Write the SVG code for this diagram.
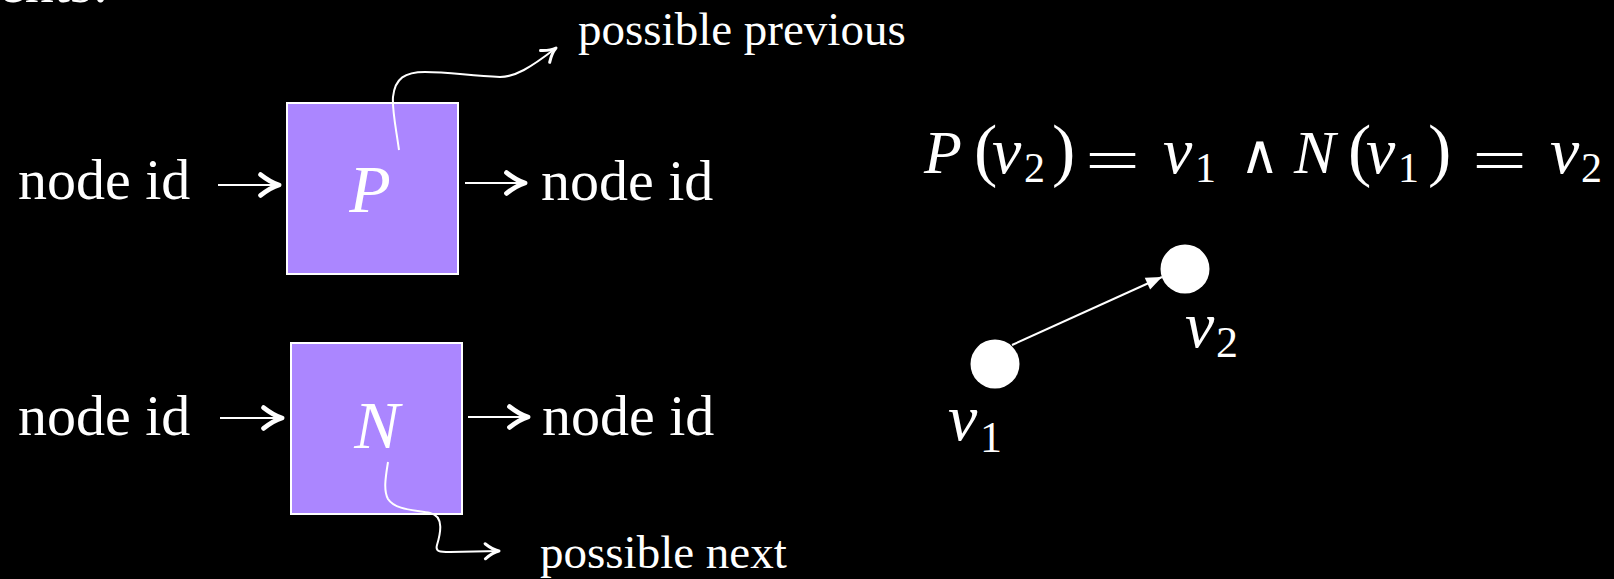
<svg xmlns="http://www.w3.org/2000/svg" width="1614" height="579" viewBox="0 0 1614 579">
<style>
.t{font-family:"Liberation Serif","Times New Roman",serif;fill:#fff}
.i{font-style:italic}
.box{fill:#ab86ff;stroke:#fff;stroke-width:2}
.ln{stroke:#fff;stroke-width:2.2;fill:none}
.cv{stroke:#fff;stroke-width:2;fill:none}
</style>
<defs>
<marker id="tex" markerUnits="userSpaceOnUse" markerWidth="30" markerHeight="30" refX="0" refY="0" viewBox="-22 -12 26 24" orient="auto" overflow="visible">
<path d="M-16,-9 Q-7,-2 0,0 Q-7,2 -16,9" fill="none" stroke="#fff" stroke-width="4.2" stroke-linecap="round" stroke-linejoin="round"/>
</marker>
<marker id="thin" markerUnits="userSpaceOnUse" markerWidth="20" markerHeight="20" refX="0" refY="0" viewBox="-14 -8 16 16" orient="auto" overflow="visible">
<path d="M-11,-6 Q-5,-1 0,0 Q-5,1 -11,6" fill="none" stroke="#fff" stroke-width="2.4" stroke-linecap="round" stroke-linejoin="round"/>
</marker>
<marker id="tri" markerUnits="userSpaceOnUse" markerWidth="20" markerHeight="20" refX="0" refY="0" viewBox="-18 -8 20 16" orient="auto" overflow="visible">
<path d="M0,0 L-16,-6.5 L-16,6.5 Z" fill="#fff"/>
</marker>
</defs>
<rect width="1614" height="579" fill="#000"/>
<text class="t" x="-1" y="2" font-size="58">ents:</text>

<g id="node-P">
<rect class="box" x="287" y="103" width="171" height="171"/>
<text class="t i" x="370" y="212" font-size="68" text-anchor="middle">P</text>
</g>
<g id="node-N">
<rect class="box" x="291" y="343" width="171" height="171"/>
<text class="t i" x="377" y="448" font-size="68" text-anchor="middle">N</text>
</g>
<g id="labels">
<text class="t" x="18" y="199" font-size="58">node id</text>
<text class="t" x="541" y="200" font-size="58">node id</text>
<text class="t" x="18" y="435" font-size="58">node id</text>
<text class="t" x="542" y="435" font-size="58">node id</text>
<text class="t" x="578" y="45" font-size="47">possible previous</text>
<text class="t" x="540" y="568" font-size="47">possible next</text>
</g>
<g id="equation" class="t">
<text x="924" y="173" font-size="62"><tspan class="i">P</tspan><tspan x="974" font-size="70">(</tspan><tspan class="i" x="992" font-size="66">v</tspan><tspan x="1024" y="182" font-size="42">2</tspan><tspan x="1052" y="173" font-size="70">)</tspan></text>
<text x="1085" y="180" font-size="60" textLength="55" lengthAdjust="spacingAndGlyphs">=</text>
<text x="1163" y="173" font-size="66"><tspan class="i">v</tspan><tspan x="1195" y="182" font-size="42">1</tspan><tspan x="1240" y="173" font-family="DejaVu Serif,serif" font-size="54">∧</tspan><tspan class="i" x="1294" font-size="62">N</tspan><tspan x="1348" font-size="70">(</tspan><tspan class="i" x="1366" font-size="66">v</tspan><tspan x="1398" y="182" font-size="42">1</tspan><tspan x="1428" y="173" font-size="70">)</tspan></text>
<text x="1472" y="180" font-size="60" textLength="55" lengthAdjust="spacingAndGlyphs">=</text>
<text x="1550" y="173" font-size="66"><tspan class="i">v</tspan><tspan x="1581" y="182" font-size="42">2</tspan></text>
</g>
<g id="node-v1">
<circle cx="995" cy="364" r="24.5" fill="#fff"/>
<text class="t" x="948" y="440" font-size="66"><tspan class="i">v</tspan><tspan x="980" y="452" font-size="44">1</tspan></text>
</g>
<g id="node-v2">
<circle cx="1185" cy="269" r="24.5" fill="#fff"/>
<text class="t" x="1185" y="347" font-size="66"><tspan class="i">v</tspan><tspan x="1216" y="357" font-size="44">2</tspan></text>
</g>
<g id="connectors">
<line class="ln" x1="218" y1="185" x2="279" y2="185" marker-end="url(#tex)"/>
<line class="ln" x1="465" y1="183" x2="525" y2="183" marker-end="url(#tex)"/>
<line class="ln" x1="220" y1="418" x2="282" y2="418" marker-end="url(#tex)"/>
<line class="ln" x1="468" y1="417" x2="528" y2="417" marker-end="url(#tex)"/>
<path class="cv" d="M399,150 C396,128 392,110 393,97 C395,78 405,72 425,72 C450,72 470,76 500,77 C515,77 530,68 556,48" marker-end="url(#thin)"/>
<path class="cv" d="M388,462 C386,475 383,490 388,499 C395,510 415,510 430,513 C445,516 440,535 437,545 C435,552 440,552 450,552 L499,551" marker-end="url(#thin)"/>
<line x1="1012" y1="345" x2="1162" y2="277" stroke="#fff" stroke-width="2" marker-end="url(#tri)"/>
</g>
</svg>
